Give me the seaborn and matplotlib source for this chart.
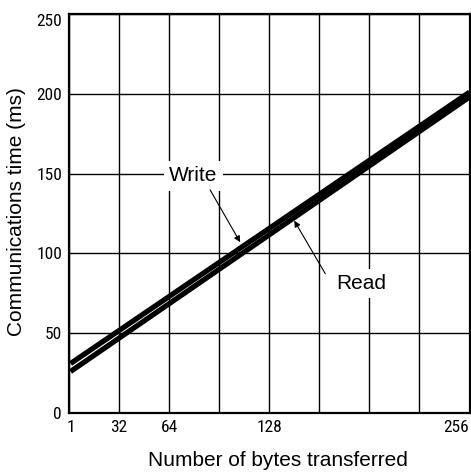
import matplotlib
matplotlib.use("Agg")
import matplotlib.pyplot as plt
from matplotlib import font_manager
from matplotlib.ticker import MultipleLocator
import numpy as np
import pandas as pd
import seaborn as sns

# Communications time versus number of bytes transferred
bytes_transferred = [1, 256]
write_ms = [31, 201]
read_ms = [26, 198]
x_tick_labels = [1, 32, 64, 128, 256]
y_tick_labels = [0, 50, 100, 150, 200, 250]

sns.set_theme(style="white")
available = {f.name for f in font_manager.fontManager.ttflist}
narrow = None
for cand in ["Liberation Sans Narrow", "Roboto Condensed", "DejaVu Sans Condensed",
             "Open Sans Condensed"]:
    if cand in available:
        narrow = cand
        break
plt.rcParams["font.family"] = ["Liberation Sans", "DejaVu Sans"]

df = pd.DataFrame({
    "bytes": bytes_transferred * 2,
    "time": write_ms + read_ms,
    "mode": ["Write"] * len(bytes_transferred) + ["Read"] * len(bytes_transferred),
})

W, H = 471, 472
fig = plt.figure(figsize=(W / 100, H / 100), dpi=100)
ax = fig.add_axes([69 / W, 1 - 413 / H, 400.5 / W, 399 / H])

sns.lineplot(data=df, x="bytes", y="time", hue="mode",
             palette={"Write": "black", "Read": "black"},
             linewidth=3.8, legend=False, ax=ax, solid_capstyle="butt")

ax.set_xlim(0, 256)
ax.set_ylim(0, 250)

# grid every 32 bytes and every 50 ms
ax.set_xticks(x_tick_labels)
ax.set_yticks(y_tick_labels)
ax.xaxis.set_minor_locator(MultipleLocator(32))
ax.xaxis.remove_overlapping_locs = False
ax.grid(False)
ax.grid(True, which="minor", axis="x", color="black", linewidth=1.0)
ax.grid(True, which="major", axis="y", color="black", linewidth=1.0)
for t in ax.xaxis.get_minor_ticks():
    if abs(t.get_loc() - 192) < 1e-6:
        t.gridline.set_color("#9a9a9a")
ax.set_axisbelow(True)

ax.tick_params(axis="both", which="both", length=0, colors="black")
ax.tick_params(axis="x", pad=5)
ax.tick_params(axis="y", pad=5)
tick_family = [narrow, "Liberation Sans"] if narrow else ["Liberation Sans"]
tick_size = 12.5 if narrow else 11.5
for lbl in ax.get_xticklabels() + ax.get_yticklabels():
    lbl.set_fontfamily(tick_family)
    lbl.set_fontsize(tick_size)
ax.get_xticklabels()[-1].set_horizontalalignment("right")
ax.get_yticklabels()[-1].set_verticalalignment("top")

for side in ["left", "bottom", "right", "top"]:
    ax.spines[side].set_visible(True)
    ax.spines[side].set_color("black")
    ax.spines[side].set_linewidth(1.6)

ax.set_xlabel("")
ax.set_ylabel("")
fig.text(278 / W, 1 - 461 / H, "Number of bytes transferred",
         ha="center", va="center", fontsize=15, color="black")
fig.text(17 / W, 1 - 212 / H, "Communications time (ms)",
         ha="center", va="center", rotation=90, fontsize=15, color="black")

# callouts
ax.text(79.5, 148.6, "Write", ha="center", va="center", fontsize=15, color="black",
        bbox=dict(boxstyle="square,pad=0.25", facecolor="white", edgecolor="none"), zorder=5)
ax.annotate("", xy=(109.4, 107.0), xytext=(90.2, 139.8),
            arrowprops=dict(arrowstyle="-|>", color="black", lw=0.8,
                            mutation_scale=9, shrinkA=0, shrinkB=0), zorder=6)
ax.text(187, 81, "Read", ha="center", va="center", fontsize=15, color="black",
        bbox=dict(boxstyle="square,pad=0.25", facecolor="white", edgecolor="none"), zorder=5)
ax.annotate("", xy=(144, 120.5), xytext=(163.8, 87.3),
            arrowprops=dict(arrowstyle="-|>", color="black", lw=0.8,
                            mutation_scale=9, shrinkA=0, shrinkB=0), zorder=6)

fig.savefig("out.png", dpi=100, facecolor="white")
